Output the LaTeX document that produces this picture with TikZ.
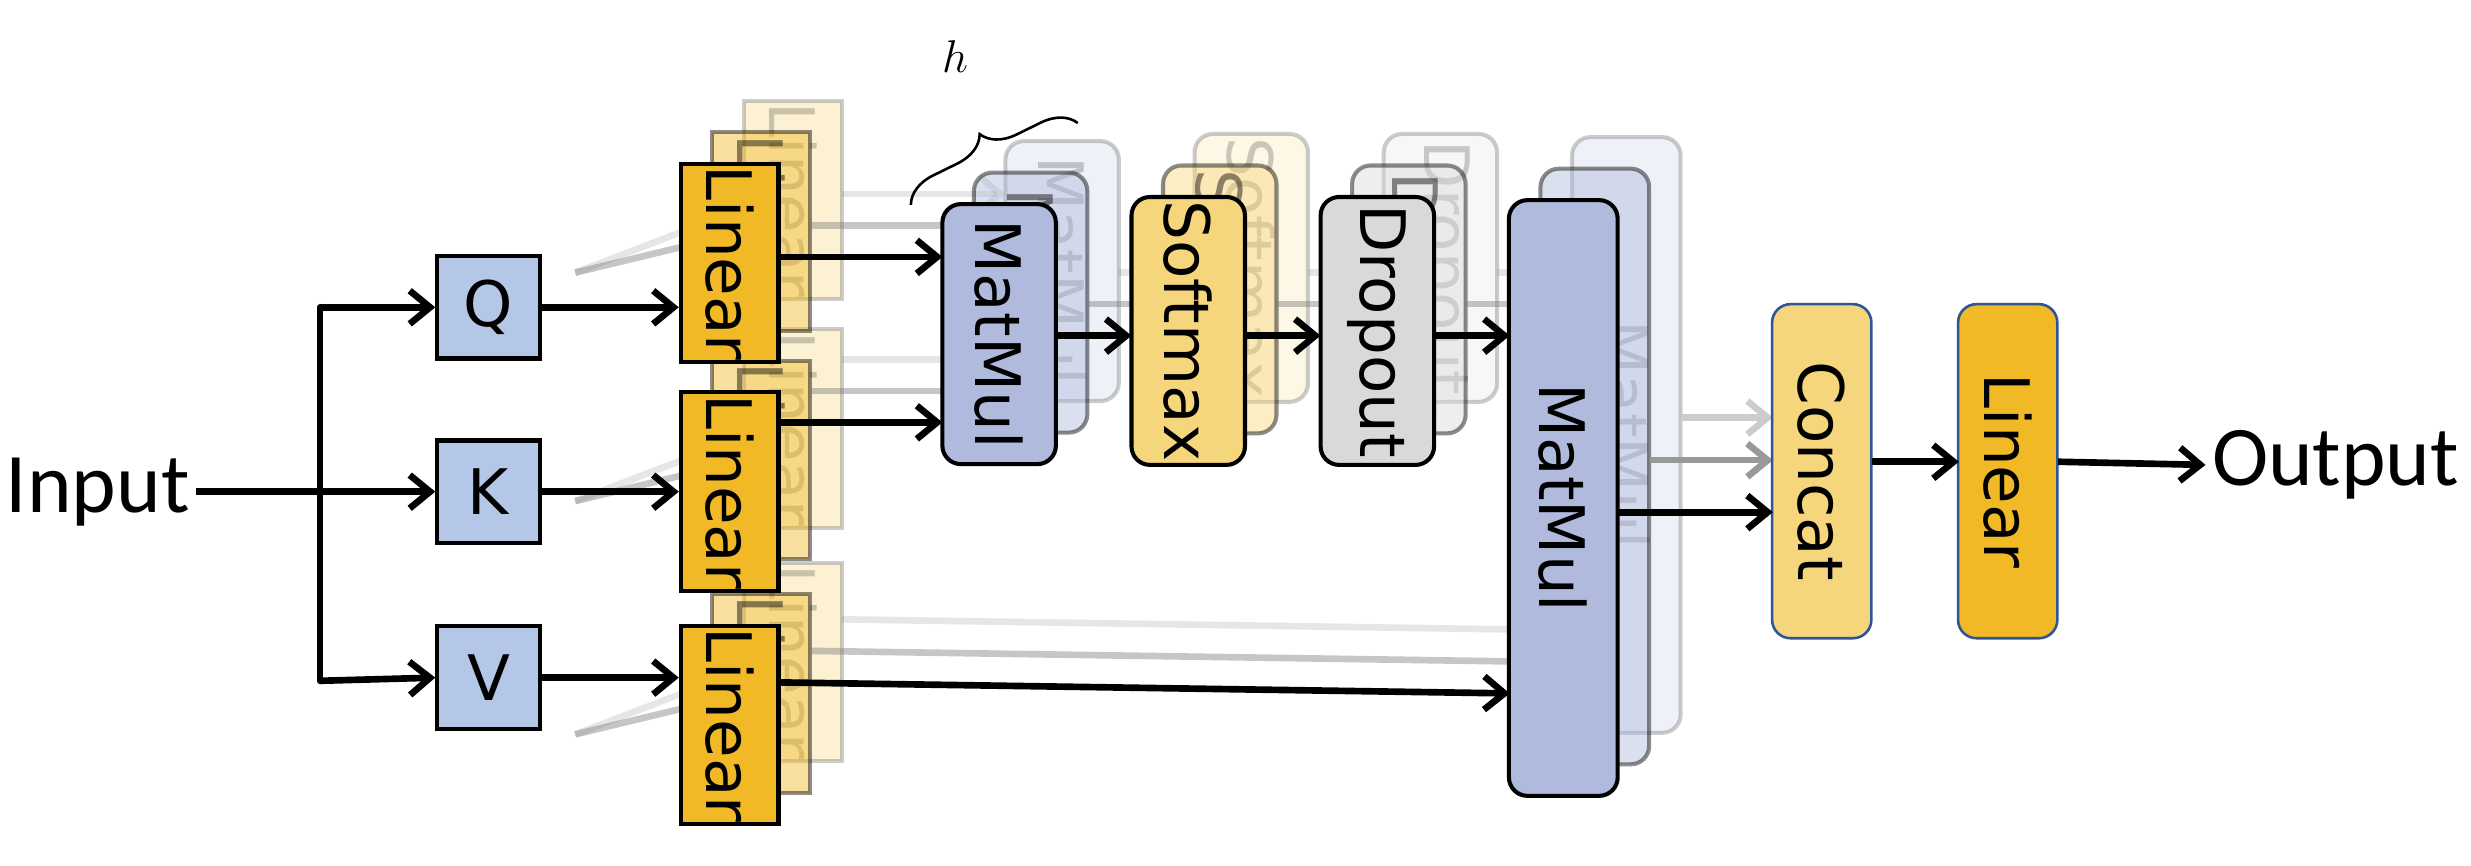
\documentclass[tikz,border=0pt]{standalone}
\usepackage{fontspec}
\setmainfont{DejaVu Sans}
\newfontfamily\calib{Carlito}
\usetikzlibrary{arrows.meta,decorations.pathreplacing}
\begin{document}
\begin{tikzpicture}[x=0.03cm,y=-0.03cm,
  bx/.style 2 args={draw=black,line width=2.2pt,minimum width=#1*0.03cm,minimum height=#2*0.03cm,inner sep=0pt,font=\fontsize{34}{34}\selectfont},
  qkv/.style={bx={65}{65},fill=qblue},
  lin/.style={bx={62}{126},fill=lgold,rotate=-90,minimum width=126*0.03cm,minimum height=62*0.03cm},
  rbox/.style n args={3}{draw=black,line width=2.2pt,rounded corners=10pt,fill=#3,minimum width=#2*0.03cm,minimum height=#1*0.03cm,inner sep=0pt,rotate=-90,font=\fontsize{34}{34}\selectfont},
  ar/.style={line width=3.6pt,-{Straight Barb[length=11pt,width=18pt,line width=3.6pt]}},
  gar/.style={ar,draw=gray!80},
  lgar/.style={ar,draw=gray!40},
]
\definecolor{qblue}{HTML}{B4C7E7}
\definecolor{lgold}{HTML}{F0B925}
\definecolor{sgold}{HTML}{F6D67C}
\definecolor{mblue}{HTML}{AFBADC}
\definecolor{dgray}{HTML}{D9D9D9}
\definecolor{bblue}{HTML}{2F5597}
\useasboundingbox (0,0) rectangle (1568,549);
% Input
\node[font=\calib\fontsize{46}{46}\selectfont] (in) at (62,312) {Input};
\coordinate (j) at (203,312);
\coordinate (jq) at (203,195);
\coordinate (jv) at (203,432);
\node[qkv] (q) at (310,195) {Q};
\node[qkv] (k) at (310,312) {K};
\node[qkv] (v) at (310,430) {V};
\draw[line width=3.6pt] (in.east) -- (j);
\draw[line width=3.6pt,line cap=round] (jq) -- (jv);
\draw[ar] (jq) -- (q.west);
\draw[ar] (j) -- (k.west);
\draw[ar] (jv) -- (v.west);
% stacked back copies
\foreach \d/\op in {40/0.2,20/0.45}{
  \begin{scope}[opacity=\op]
  \foreach \yy in {167,312,460}{
    \node[lin] at (463+\d,\yy-\d) {Linear};
    \draw[line width=3.6pt,gray] (365,\yy+6) -- (463+\d-31,\yy-\d+5);
  }
  \draw[ar,gray] (494+\d,163-\d) -- (598+\d,163-\d);
  \draw[ar,gray] (494+\d,268-\d) -- (598+\d,268-\d);
  \draw[ar,gray] (494+\d,433-\d) -- (958+\d,440-\d);
  \node[rbox={72}{165}{mblue}] at (634+\d,212-\d) {MatMul};
  \node[rbox={72}{170}{sgold}] at (754+\d,210-\d) {Softmax};
  \node[rbox={72}{170}{dgray}] at (874+\d,210-\d) {Dropout};
  \draw[ar,gray] (670+\d,213-\d) -- (718+\d,213-\d);
  \draw[ar,gray] (790+\d,213-\d) -- (838+\d,213-\d);
  \draw[ar,gray] (910+\d,213-\d) -- (958+\d,213-\d);
  \node[rbox={69}{378}{mblue}] at (992+\d,316-\d) {MatMul};
  \end{scope}
}
\draw[lgar] (1067,265) -- (1125,265);
\draw[gar] (1047,292) -- (1125,292);
% front
\node[lin] (lq) at (463,167) {Linear};
\node[lin] (lk) at (463,312) {Linear};
\node[lin] (lv) at (463,460) {Linear};
\draw[ar] (q.east) -- (q.east -| lq.south);
\draw[ar] (k.east) -- (k.east -| lk.south);
\draw[ar] (v.east) -- (v.east -| lv.south);
\node[rbox={72}{165}{mblue}] (m1) at (634,212) {MatMul};
\node[rbox={72}{170}{sgold}] (sm) at (754,210) {Softmax};
\node[rbox={72}{170}{dgray}] (dr) at (874,210) {Dropout};
\node[rbox={69}{378}{mblue}] (m2) at (992,316) {MatMul};
\draw[ar] (494,163) -- (598,163);
\draw[ar] (494,268) -- (598,268);
\draw[ar] (494,433) -- (958,440);
\draw[ar] (670,213) -- (718,213);
\draw[ar] (790,213) -- (838,213);
\draw[ar] (910,213) -- (958,213);
\node[rbox={63}{212}{sgold},draw=bblue,line width=1.4pt] (cc) at (1156,299) {Concat};
\node[rbox={63}{212}{lgold},draw=bblue,line width=1.4pt] (lo) at (1274,299) {Linear};
\draw[ar] (1027,325) -- (1125,325);
\draw[ar] (1188,293) -- (1243,293);
\node[font=\calib\fontsize{46}{46}\selectfont] (out) at (1482,295) {Output};
\draw[ar] (1306,293) -- (out.west);
% h brace
\coordinate (b1) at (578,130);
\coordinate (b2) at (684,78);
\draw[line width=1.4pt,decorate,decoration={brace,amplitude=18pt}] (b1) -- (b2);
\node[font=\fontsize{60}{60}\selectfont] (h) at (606,36) {$h$};
\end{tikzpicture}
\end{document}
